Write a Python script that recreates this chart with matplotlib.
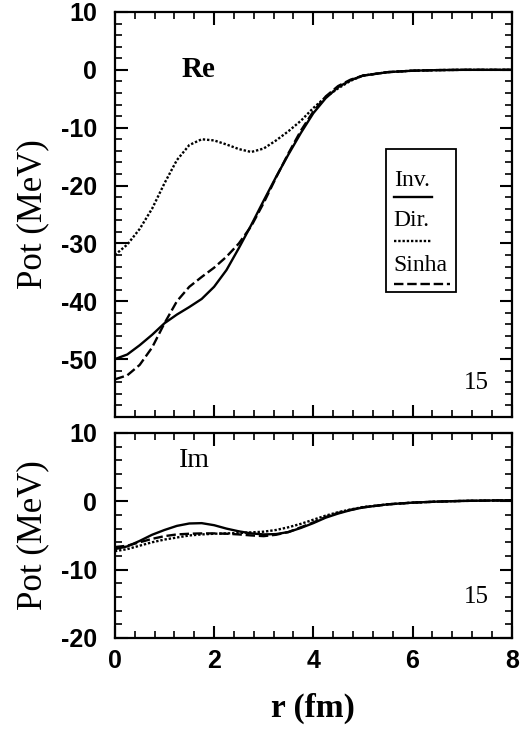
import numpy as np
import matplotlib
matplotlib.use("Agg")
import matplotlib.pyplot as plt
from matplotlib.ticker import MultipleLocator

plt.rcParams["axes.unicode_minus"] = False

# radial grid (fm)
r = [0, 0.25, 0.5, 0.75, 1.0, 1.25, 1.5, 1.75, 2.0, 2.25, 2.5, 2.75, 3.0,
     3.25, 3.5, 3.75, 4.0, 4.25, 4.5, 4.75, 5.0, 5.5, 6.0, 6.5, 7.0, 8.0]

# real part (MeV)
re_inv = [-50, -49.2, -47.6, -45.8, -43.8, -42.3, -41, -39.6, -37.5, -34.6, -30.8,
          -26.8, -22.6, -18.5, -14.6, -10.9, -7.5, -4.9, -3.0, -1.8, -1.0,
          -0.4, -0.15, -0.05, 0, 0]
re_dir = [-32, -30.2, -27.5, -24, -19.6, -15.6, -13, -12, -12.2, -12.9, -13.7,
          -14.2, -13.6, -12.2, -10.6, -8.8, -6.6, -4.7, -3.2, -1.9, -1.0,
          -0.4, -0.15, -0.05, 0, 0]
re_sinha = [-53.5, -52.8, -51, -48, -43.8, -40, -37.5, -35.8, -34.2, -32.3, -30.0,
            -27.0, -23, -18.6, -14.4, -10.5, -7.2, -4.6, -2.8, -1.7, -1.0,
            -0.4, -0.15, -0.05, 0, 0]

# imaginary part (MeV)
im_inv = [-7.0, -6.6, -5.8, -4.9, -4.2, -3.6, -3.25, -3.2, -3.5, -4.0, -4.4,
          -4.7, -4.85, -4.8, -4.5, -3.9, -3.2, -2.4, -1.8, -1.3, -0.9,
          -0.45, -0.2, -0.05, 0.05, 0.15]
im_dir = [-7.3, -7.0, -6.5, -6.0, -5.6, -5.3, -5.0, -4.85, -4.75, -4.7, -4.65,
          -4.55, -4.45, -4.2, -3.8, -3.3, -2.7, -2.1, -1.6, -1.2, -0.85,
          -0.45, -0.2, -0.05, 0.05, 0.15]
im_sinha = [-6.7, -6.5, -6.0, -5.5, -5.1, -4.85, -4.75, -4.7, -4.7, -4.75, -4.85,
            -5.0, -5.1, -4.9, -4.5, -3.8, -3.1, -2.3, -1.7, -1.25, -0.9,
            -0.45, -0.2, -0.05, 0.05, 0.15]

labels = ["Inv.", "Dir.", "Sinha"]
re_yticks = [-50, -40, -30, -20, -10, 0, 10]
im_yticks = [-20, -10, 0, 10]

serif = ["Liberation Serif", "DejaVu Serif"]
sans = ["Liberation Sans", "DejaVu Sans"]

styles = [dict(color="black", lw=1.7, ls="-"),
          dict(color="black", lw=1.7, ls=(0, (1, 0.8))),
          dict(color="black", lw=1.7, ls=(0, (4, 1.6)))]

fig = plt.figure(figsize=(5.27, 7.35), dpi=100)
ax1 = fig.add_axes([0.218, 0.4327, 0.753, 0.551])
ax2 = fig.add_axes([0.218, 0.132, 0.753, 0.279])


def style_axes(ax, ymin, ymax, yticks, show_x):
    ax.set_xlim(0, 8)
    ax.set_ylim(ymin, ymax)
    ax.xaxis.set_major_locator(MultipleLocator(2))
    ax.xaxis.set_minor_locator(MultipleLocator(0.4))
    ax.set_yticks(yticks)
    ax.yaxis.set_minor_locator(MultipleLocator(2))
    ax.tick_params(which="both", direction="in", top=True, right=True)
    ax.tick_params(which="major", length=9, width=1.5)
    ax.tick_params(which="minor", length=5, width=1.2)
    ax.tick_params(axis="y", pad=13)
    for s in ax.spines.values():
        s.set_linewidth(1.6)
    for t in ax.get_yticklabels():
        t.set_fontfamily(sans)
        t.set_fontsize(18)
        t.set_fontweight("bold")
    if show_x:
        for t in ax.get_xticklabels():
            t.set_fontfamily(sans)
            t.set_fontsize(18)
            t.set_fontweight("bold")
        ax.tick_params(axis="x", pad=8)
    else:
        ax.set_xticklabels([])
    ax.set_ylabel("Pot (MeV)", fontfamily=serif, fontsize=25, labelpad=8)


for ys, st in zip([re_inv, re_dir, re_sinha], styles):
    ax1.plot(r, ys, **st)
for ys, st in zip([im_inv, im_dir, im_sinha], styles):
    ax2.plot(r, ys, **st)

style_axes(ax1, -60, 10, re_yticks, False)
style_axes(ax2, -20, 10, im_yticks, True)
ax2.set_xlabel("r (fm)", fontfamily=serif, fontsize=24, fontweight="bold", labelpad=14)
fig.align_ylabels([ax1, ax2])

ax1.text(1.35, 0, "Re", fontfamily=serif, fontsize=21, fontweight="bold", va="center")
ax2.text(1.3, 5.9, "Im", fontfamily=serif, fontsize=20, va="center")
ax1.text(0.91, 0.085, "15", transform=ax1.transAxes, fontfamily=serif, fontsize=18,
         ha="center", va="center")
ax2.text(0.91, 0.2, "15", transform=ax2.transAxes, fontfamily=serif, fontsize=18,
         ha="center", va="center")

# legend: label above its line sample, framed
box = plt.Rectangle((0.683, 0.309), 0.176, 0.353, transform=ax1.transAxes,
                    fill=False, lw=1.3, color="black")
ax1.add_patch(box)
text_y = [0.585, 0.486, 0.375]
line_y = [0.543, 0.435, 0.328]
line_x1 = [0.798, 0.796, 0.844]
for lab, ty, ly, x1, st in zip(labels, text_y, line_y, line_x1, styles):
    ax1.text(0.703, ty, lab, transform=ax1.transAxes, fontfamily=serif,
             fontsize=17, va="center")
    ax1.plot([0.703, x1], [ly, ly], transform=ax1.transAxes, **st)

fig.savefig("out.png", dpi=100)
